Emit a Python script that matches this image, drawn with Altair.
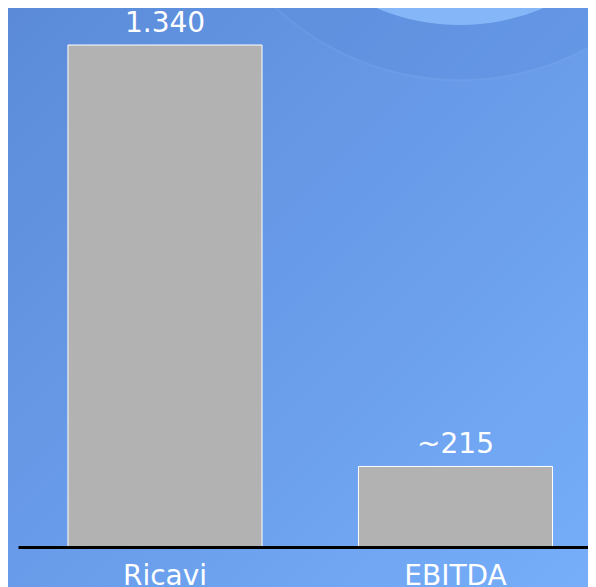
import altair as alt
import pandas as pd

categories = ["Ricavi", "EBITDA"]
values = [1340, 215]
labels = ["1.340", "~215"]

df = pd.DataFrame({"categoria": categories, "valore": values, "etichetta": labels})

FONT = "DejaVu Sans"
VIEW_W = 570
VIEW_H = 539

x_enc = alt.X(
    "categoria:N",
    sort=categories,
    scale=alt.Scale(range=[0, 584.5], paddingInner=0.332, paddingOuter=0.172),
    axis=alt.Axis(
        title=None,
        labelAngle=0,
        ticks=False,
        tickSize=0,
        domainColor="#000000",
        domainWidth=3,
        labelColor="#ffffff",
        labelFont=FONT,
        labelFontSize=28,
        labelBaseline="alphabetic",
        labelPadding=37,
        zindex=2,
    ),
)
y_enc = alt.Y("valore:Q", scale=alt.Scale(domain=[0, 1438.8]), axis=None)

one = pd.DataFrame({"k": [0]})

bg = alt.Chart(one).mark_rect(
    fill=alt.Gradient(
        gradient="linear",
        stops=[
            alt.GradientStop(color="#5b8bd8", offset=0),
            alt.GradientStop(color="#679ae8", offset=0.45),
            alt.GradientStop(color="#76aef9", offset=1),
        ],
        x1=0, y1=0, x2=1, y2=1,
    )
).encode(
    x=alt.value(-10), x2=alt.value(VIEW_W), y=alt.value(0), y2=alt.value(VIEW_H + 40)
)

ring = alt.Chart(one).mark_point(
    shape="circle", filled=True, fill="#5a8cdc", opacity=0.35,
    stroke="#8ab8f6", strokeWidth=2, strokeOpacity=0.5
).encode(x=alt.value(442), y=alt.value(-198), size=alt.value(292000))

disc = alt.Chart(one).mark_point(
    shape="circle", filled=True, fill="#8cbcfc", opacity=0.85, strokeWidth=0
).encode(x=alt.value(442), y=alt.value(-195.5), size=alt.value(180625))

bars = alt.Chart(df).mark_bar(
    fill="#b2b2b2", stroke="#ffffff", strokeWidth=1
).encode(x=x_enc, y=y_enc)

text = alt.Chart(df).mark_text(
    color="#ffffff", font=FONT, fontSize=28, baseline="alphabetic", dy=-13
).encode(x=x_enc, y=y_enc, text="etichetta:N")

chart = (
    alt.layer(bg, ring, disc, bars, text)
    .properties(
        width=VIEW_W,
        height=VIEW_H,
        autosize=alt.AutoSizeParams(type="none"),
        padding={"left": 10, "top": 0, "right": 0, "bottom": 40},
        background="#6a9eec",
    )
    .configure_view(stroke=None)
)

chart.save("out.html", embed_options={"renderer": "svg", "actions": False})
